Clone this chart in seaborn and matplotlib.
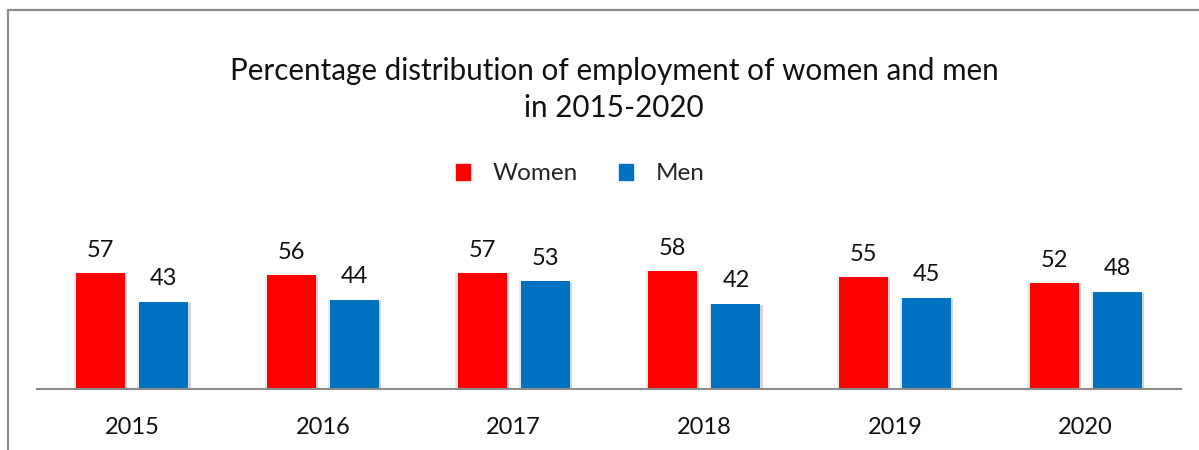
import matplotlib
matplotlib.use("Agg")
import matplotlib.pyplot as plt
import matplotlib.patheffects as pe
from matplotlib.patches import Rectangle
from matplotlib.lines import Line2D
import pandas as pd
import seaborn as sns

years = ["2015", "2016", "2017", "2018", "2019", "2020"]
women = [57, 56, 57, 58, 55, 52]
men = [43, 44, 53, 42, 45, 48]
series_names = ["Women", "Men"]
series_colors = ["#FF0000", "#0070C0"]

df = pd.DataFrame({
    "year": years * 2,
    "value": women + men,
    "sex": [series_names[0]] * len(years) + [series_names[1]] * len(years),
})

sns.set_theme(style="white")
plt.rcParams["font.family"] = ["Lato", "DejaVu Sans"]

W, H = 1199, 450
fig = plt.figure(figsize=(W / 100, H / 100), dpi=100)

# outer frame (top and left edges)
fig.add_artist(Line2D([8 / W, 8 / W], [0, 1 - 10 / H], color="#8c8c8c", lw=1.6))
fig.add_artist(Line2D([8 / W, 1], [1 - 10 / H, 1 - 10 / H], color="#8c8c8c", lw=1.6))

ax = fig.add_axes([37 / W, 61 / H, (1181 - 37) / W, 203 / H])
sns.barplot(data=df, x="year", y="value", hue="sex", order=years,
            hue_order=series_names, palette=series_colors,
            width=0.664, gap=0.226, ax=ax, legend=False, saturation=1)

# soft shadow around each bar
for bar in ax.patches:
    bar.set_linewidth(0)
    bar.set_path_effects([
        pe.SimplePatchShadow(offset=(-1.5, 0), shadow_rgbFace="#c0c0c0", alpha=0.35),
        pe.SimplePatchShadow(offset=(1.5, -1), shadow_rgbFace="#a0a0a0", alpha=0.45),
        pe.Normal(),
    ])

for cont in ax.containers:
    ax.bar_label(cont, fmt="%d", padding=9, fontsize=17, color="#111111")

ax.set_ylim(0, 100)
ax.set_xlim(-0.5, len(years) - 0.5)
ax.set_xlabel("")
ax.set_ylabel("")
ax.set_yticks([])
for s in ["top", "right", "left"]:
    ax.spines[s].set_visible(False)
ax.spines["bottom"].set_color("#8c8c8c")
ax.spines["bottom"].set_linewidth(1.5)
ax.tick_params(axis="x", length=0, pad=20, labelsize=17, labelcolor="#111111")

fig.text(614 / W, 1 - 71 / H, "Percentage distribution of employment of women and men",
         ha="center", va="center", fontsize=21.3, color="#111111")
fig.text(614 / W, 1 - 108 / H, "in 2015-2020",
         ha="center", va="center", fontsize=21.3, color="#111111")

# legend
handles = [Rectangle((0, 0), 1, 1, color=c) for c in series_colors]
fig.legend(handles, series_names, loc="center", bbox_to_anchor=(580 / W, 1 - 174 / H),
           ncol=2, frameon=False, fontsize=17.5, handlelength=0.6, handleheight=0.6,
           handletextpad=0.9, columnspacing=1.7)

fig.savefig("out.png", dpi=100, facecolor="white")
